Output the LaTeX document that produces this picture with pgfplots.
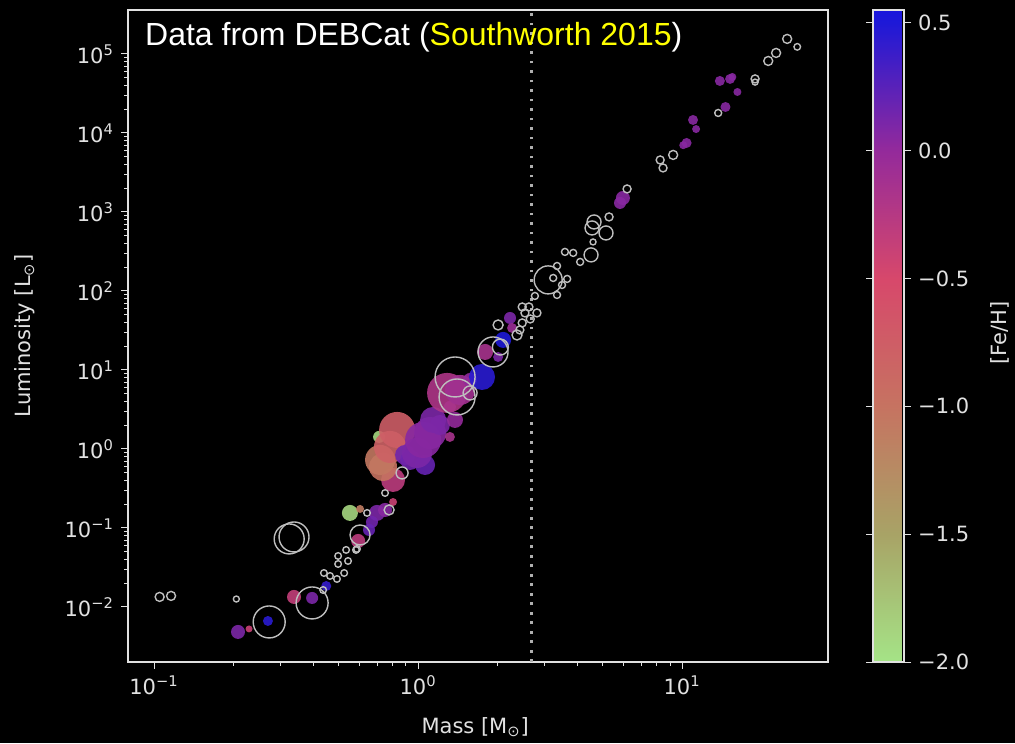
\documentclass[border=0pt]{standalone}
\usepackage{pgfplots}
\pgfplotsset{compat=1.18}
\usepackage{fontspec}
\setmainfont{DejaVu Sans}
\newfontfamily\titlefont{Liberation Sans}
\definecolor{axgray}{RGB}{225,225,225}
\definecolor{ringgray}{RGB}{190,190,190}
\definecolor{dotgray}{RGB}{175,175,175}
\definecolor{ttl}{RGB}{255,255,0}
\pgfplotstableread{
m l r
0.105 0.0134 4.5
0.116 0.0138 4.5
0.205 0.0126 3
0.273 0.00646 16
0.397 0.01124 16
0.437 0.0164 3.3
0.440 0.0269 3.3
0.464 0.0247 3.3
0.493 0.0226 3.3
0.525 0.0269 3.3
0.498 0.035 3.3
0.543 0.0382 3.3
0.498 0.0442 3.3
0.534 0.0527 3.3
0.582 0.0527 3.3
0.325 0.0726 15
0.339 0.0769 15
0.641 0.155 3.3
0.603 0.0815 10
0.777 0.169 5
0.587 0.0542 3.3
0.750 0.277 3.3
0.870 0.497 6
1.381 8.15 20
1.405 4.55 18
1.574 5.12 7
1.923 16.9 15
2.05 19.5 8
2.37 27.7 5
2.01 37.1 5
2.48 62.7 4
2.63 62.7 4
2.82 52.7 4
2.54 52.7 4
2.66 44.2 4
2.48 39.4 4
2.43 32.1 4
2.77 86.4 3.5
3.11 138 14
3.36 207 3.5
3.25 146 3.5
3.67 142 3.5
3.51 119 3.5
3.36 89 3.5
3.60 312 3.5
3.87 303 3.5
4.52 286 7
4.11 233 3.5
4.60 417 3
4.64 747 7
4.56 627 7
5.15 542 7
5.29 865 4
6.19 1955 4
8.26 4550 4
8.47 3606 4
9.25 5270 4.5
13.7 17900 3.5
18.9 48300 4
18.9 44000 3
21.2 81500 4.5
22.7 103000 4.5
25.0 155000 4.5
27.3 123000 3.3
}\hollow
\pgfplotstableread{
m l r c
0.208 0.00483 7 0.1
0.229 0.00527 3.5 -0.4
0.270 0.00665 5 0.45
0.339 0.0134 7 -0.35
0.397 0.0130 6 0.1
0.449 0.0184 5 0.4
0.552 0.155 8 -1.9
0.603 0.174 4 -1.1
0.699 0.155 8 0.1
0.750 0.169 7 0.05
0.669 0.119 6 0.15
0.652 0.0944 6 0.2
0.593 0.0685 7 -0.3
0.804 0.213 4 -0.4
0.804 0.405 12 -0.3
0.737 0.592 14 -1.0
0.718 0.726 15 -1.05
0.712 1.42 6 -1.9
0.783 1.06 16 -0.8
0.833 1.74 18 -0.75
0.933 0.726 10 0.15
0.893 0.840 10 0.15
1.063 0.627 10 0.2
0.991 0.890 15 0.1
1.045 1.30 18 0.05
1.11 1.59 16 0.05
1.14 2.33 13 0.1
1.21 2.01 10 0.1
1.38 2.33 8 0.0
1.32 1.42 5 -0.15
1.32 3.40 6 0.1
1.288 5.12 20 -0.2
1.442 5.58 15 -0.1
1.574 7.47 7 0.0
1.747 8.15 13 0.45
1.794 16.9 8 -0.15
2.01 14.6 5 0.1
2.10 24.0 8 0.5
2.23 45.5 6 0.1
2.27 34.0 5 -0.05
5.97 1503 7 0.05
5.82 1300 6 0.05
10.4 7470 5 0.05
10.1 7000 4 0.05
11.0 14600 5 0.05
11.3 11200 4 0.05
14.6 21300 5 0.05
16.2 33000 4 0.05
13.9 45500 5 0.05
15.2 48300 5 0.05
15.5 51100 4 0.05
}\colored
\begin{document}
\begin{tikzpicture}
\useasboundingbox (-64pt,-40.5pt) rectangle (443.5pt,331pt);
\fill[black] (-64pt,-40.5pt) rectangle (443.5pt,331pt);
\begin{axis}[
  at={(0pt,0pt)}, anchor=south west,
  scale only axis, width=350pt, height=326pt,
  xmode=log, ymode=log,
  xmin=0.0797, xmax=35.7, ymin=2.01e-3, ymax=3.6e5,
  axis line style={axgray, line width=0.6pt},
  tick align=outside,
  xtick pos=bottom, ytick pos=left,
  major tick length=3.5pt, minor tick length=2pt,
  every tick/.style={axgray, line width=0.5pt},
  xtick={0.1,1,10},
  xticklabels={10\textsuperscript{−1},10\textsuperscript{0},10\textsuperscript{1}},
  ytick={1e-2,1e-1,1,10,100,1000,1e4,1e5},
  yticklabels={10\textsuperscript{−2},10\textsuperscript{−1},10\textsuperscript{0},10\textsuperscript{1},10\textsuperscript{2},10\textsuperscript{3},10\textsuperscript{4},10\textsuperscript{5}},
  tick label style={font=\fontsize{10.5}{12}\selectfont, text=axgray},
  xlabel={Mass [M\textsubscript{⊙}]},
  ylabel={Luminosity [L\textsubscript{⊙}]},
  label style={font=\fontsize{10.5}{12}\selectfont, text=axgray},
  xlabel style={at={(axis description cs:0.496,-0.1)}, anchor=center},
  ylabel style={at={(axis description cs:-0.147,0.5)}, anchor=center},
  colormap={feh}{[1pt] rgb255(0pt)=(165,228,135); rgb255(10pt)=(168,163,102); rgb255(20pt)=(198,115,97); rgb255(30pt)=(215,72,107); rgb255(40pt)=(148,42,155); rgb255(50pt)=(30,25,215); rgb255(51pt)=(25,22,220)},
  point meta min=-2, point meta max=0.55,
  colorbar,
  colorbar style={
    at={(parent axis.north east)}, anchor=north west, xshift=14pt,
    width=15.5pt,
    axis line style={axgray, line width=0.6pt},
    ytick={-2,-1.5,-1,-0.5,0,0.5},
    yticklabels={−2.0,−1.5,−1.0,−0.5,0.0,0.5},
    yticklabel style={font=\fontsize{10.5}{12}\selectfont, text=axgray},
    major tick length=3.5pt,
    every tick/.style={axgray, line width=0.5pt},
    tick align=outside,
    ylabel={[Fe/H]},
    ylabel style={font=\fontsize{10.5}{12}\selectfont, text=axgray, at={(axis description cs:4.1,0.505)}, anchor=center},
  },
]
\addplot[dotgray, line width=1.5pt, dash pattern=on 1.4pt off 3.35pt, forget plot] coordinates {(2.7,0.00201) (2.7,3.6e5)};
\addplot[scatter, only marks, mark=*,
  point meta=\thisrow{c},
  scatter/use mapped color={draw=mapped color, fill=mapped color, draw opacity=0, fill opacity=0.9},
  visualization depends on={0.5*\thisrow{r} \as \rad},
  scatter/@pre marker code/.append style={/tikz/mark size=\rad},
] table[x=m, y=l] {\colored};
\addplot[scatter, only marks, mark=o, line width=0.7pt,
  point meta=\thisrow{r},
  scatter/use mapped color={draw=ringgray, fill=none},
  visualization depends on={0.5*\thisrow{r} \as \rad},
  scatter/@pre marker code/.append style={/tikz/mark size=\rad},
] table[x=m, y=l] {\hollow};
\node[anchor=base west, font=\titlefont\fontsize{16}{18}\selectfont, text=white, inner sep=0pt] at (rel axis cs:0.024,0.946) {Data from DEBCat (\textcolor{ttl}{Southworth 2015})};
\end{axis}
\end{tikzpicture}
\end{document}
